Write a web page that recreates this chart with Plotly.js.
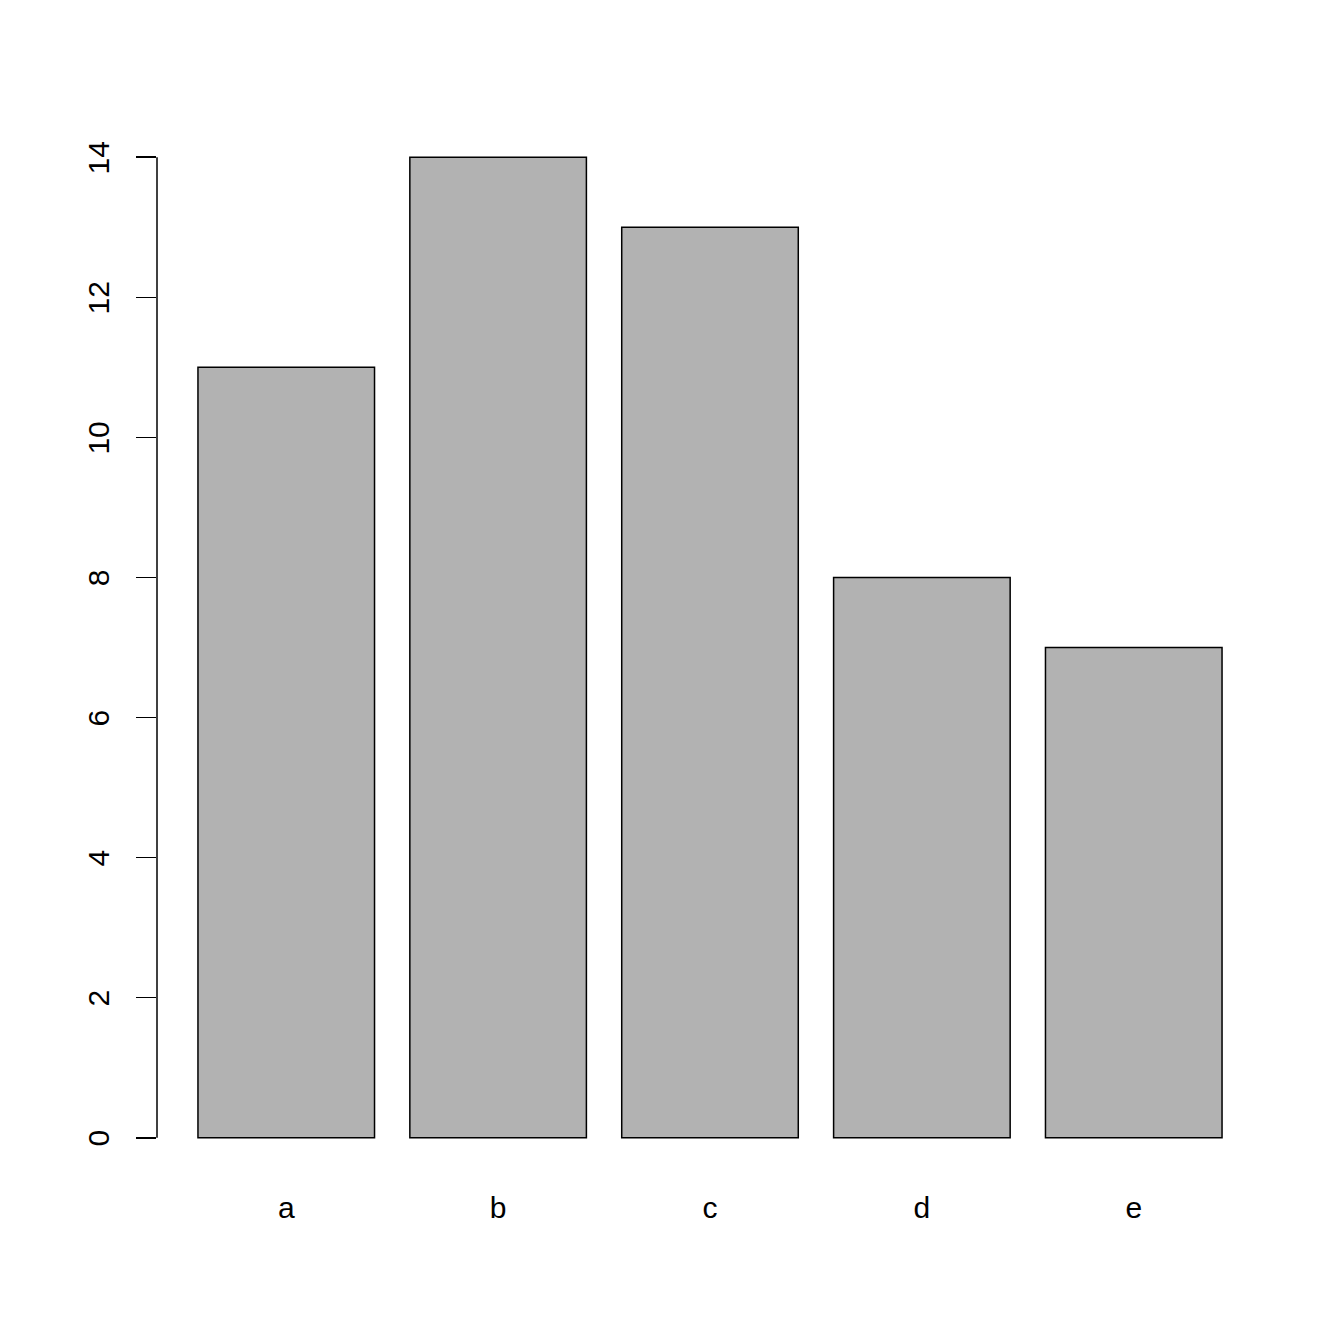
<!DOCTYPE html>
<html>
<head>
<meta charset="utf-8">
<script src="https://cdn.plot.ly/plotly-3.0.1.min.js"></script>
<style>html,body{margin:0;padding:0;background:#fff}#chart{width:1344px;height:1344px}</style>
</head>
<body>
<div id="chart"></div>
<script>
var categories = ["a", "b", "c", "d", "e"];
var values = [11, 14, 13, 8, 7];
var yTicks = [0, 2, 4, 6, 8, 10, 12, 14];

var trace = {
  type: "bar",
  x: categories,
  y: values,
  marker: {color: "#b2b2b2", line: {color: "#000000", width: 1.5}},
  hoverinfo: "x+y"
};

var layout = {
  width: 1344,
  height: 1344,
  margin: {l: 157, r: 81, t: 118, b: 167, pad: 0},
  paper_bgcolor: "#ffffff",
  plot_bgcolor: "#ffffff",
  showlegend: false,
  bargap: 1/6,
  font: {family: "Liberation Sans, Arial, sans-serif", size: 30, color: "#000000"},
  xaxis: {
    type: "category",
    range: [-0.61, 4.61],
    showgrid: false,
    zeroline: false,
    showline: false,
    ticks: "",
    ticklabelstandoff: 10,
    tickfont: {size: 30}
  },
  yaxis: {
    range: [-0.56, 14.56],
    tickvals: yTicks,
    ticktext: yTicks.map(String),
    tickangle: -90,
    showgrid: false,
    zeroline: false,
    showline: false,
    ticks: "outside",
    ticklen: 20,
    tickwidth: 1.5,
    tickcolor: "#000000",
    ticklabelstandoff: 15,
    ticklabelshift: 5,
    tickfont: {size: 30}
  },
  shapes: [{
    type: "line",
    xref: "paper", yref: "y",
    x0: 0, x1: 0,
    y0: yTicks[0], y1: yTicks[yTicks.length - 1],
    line: {color: "#000000", width: 1.5}
  }]
};

Plotly.newPlot("chart", [trace], layout, {displayModeBar: false, staticPlot: true});
</script>
</body>
</html>
